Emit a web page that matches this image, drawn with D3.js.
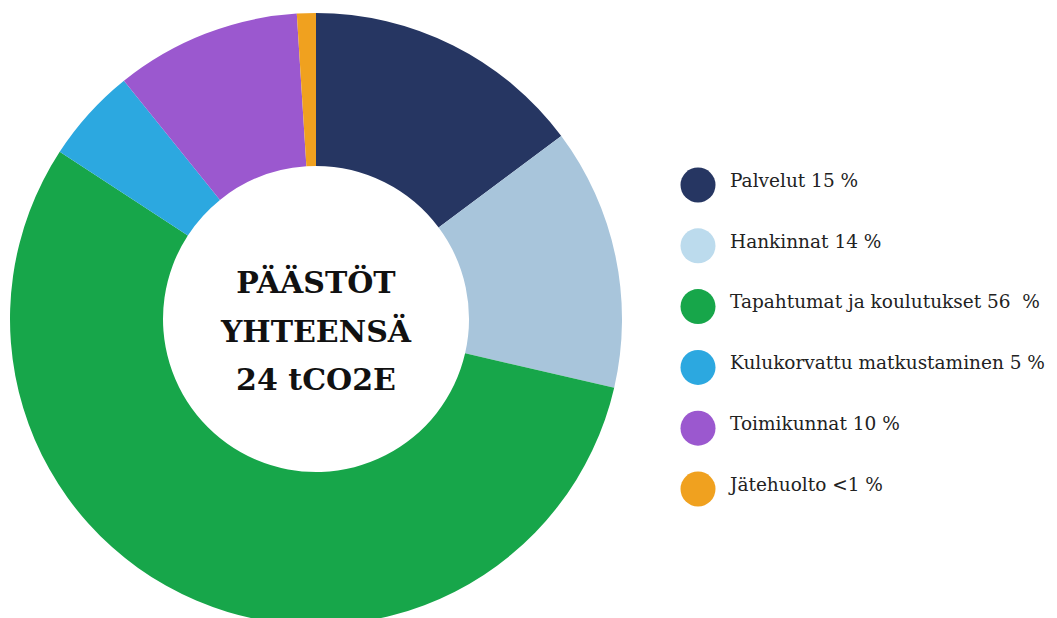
<!DOCTYPE html>
<html>
<head>
<meta charset="utf-8">
<script src="https://cdn.jsdelivr.net/npm/d3@7"></script>
<style>
  html, body { margin: 0; padding: 0; background: #fff; }
  svg { display: block; }
</style>
</head>
<body>
<div id="chart"></div>
<script>
// Data
const categories = [
  "Palvelut",
  "Hankinnat",
  "Tapahtumat ja koulutukset",
  "Kulukorvattu matkustaminen",
  "Toimikunnat",
  "Jätehuolto",
];
const shares = [14.8, 13.8, 55.6, 5.0, 9.8, 1.0];
const shareLabels = ["15 %", "14 %", "56  %", "5 %", "10 %", "<1 %"];
const sliceColors = ["#263662", "#a8c5db", "#17a64a", "#2ca8e0", "#9b58cf", "#f0a11f"];
const legendColors = ["#263662", "#bcdbed", "#17a64a", "#2ca8e0", "#9b58cf", "#f0a11f"];
const centerLines = ["PÄÄSTÖT", "YHTEENSÄ", "24 tCO2E"];

const config = {
  width: 1057,
  height: 618,
  cx: 316,
  cy: 319,
  outerRadius: 306,
  innerRadius: 153,
  legend: { x: 698, top: 185, bottom: 489, r: 17.5, textX: 730 },
};

const { width, height } = config;

const data = categories.map((c, i) => ({
  name: c,
  value: shares[i],
  label: shareLabels[i],
  color: sliceColors[i],
  legendColor: legendColors[i],
}));

const svg = d3
  .select("#chart")
  .append("svg")
  .attr("width", width)
  .attr("height", height);

// Donut
const pie = d3.pie().sort(null).value((d) => d.value);
const arc = d3.arc().innerRadius(config.innerRadius).outerRadius(config.outerRadius);

const donut = svg
  .append("g")
  .attr("transform", `translate(${config.cx}, ${config.cy})`);

donut
  .selectAll("path")
  .data(pie(data))
  .join("path")
  .attr("d", arc)
  .attr("fill", (d) => d.data.color);

// Center text
const lineY = d3.scalePoint().domain(centerLines).range([-26, 71]);
donut
  .selectAll(".center-label")
  .data(centerLines)
  .join("text")
  .attr("class", "center-label")
  .attr("x", 0)
  .attr("y", (d) => lineY(d))
  .attr("text-anchor", "middle")
  .attr("font-family", "'DejaVu Serif', serif")
  .attr("font-weight", "bold")
  .attr("font-size", "30px")
  .attr("fill", "#111")
  .text((d) => d);

// Legend
const legendY = d3
  .scalePoint()
  .domain(categories)
  .range([config.legend.top, config.legend.bottom]);

const legend = svg
  .selectAll(".legend-item")
  .data(data)
  .join("g")
  .attr("class", "legend-item")
  .attr("transform", (d) => `translate(0, ${legendY(d.name)})`);

legend
  .append("circle")
  .attr("cx", config.legend.x)
  .attr("cy", 0)
  .attr("r", config.legend.r)
  .attr("fill", (d) => d.legendColor);

legend
  .append("text")
  .attr("x", config.legend.textX)
  .attr("y", 0)
  .attr("dy", "0.1em")
  .attr("font-family", "'DejaVu Serif', serif")
  .attr("font-size", "18.5px")
  .attr("fill", "#222")
  .attr("xml:space", "preserve")
  .style("white-space", "pre")
  .text((d) => `${d.name} ${d.label}`);
</script>
</body>
</html>
